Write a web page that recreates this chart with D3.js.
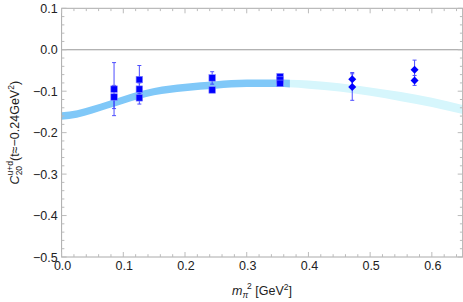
<!DOCTYPE html>
<html><head><meta charset="utf-8">
<script src="https://cdn.jsdelivr.net/npm/d3@7"></script>
<style>body{margin:0;background:#fff}svg{display:block}text{font-family:"Liberation Sans",Arial,sans-serif}</style>
</head><body>
<svg id="c" width="463" height="302"></svg>
<script>
// Data
const squareX   = [0.085, 0.085, 0.126, 0.126, 0.126, 0.244, 0.244, 0.354, 0.354, 0.354];
const squareY   = [-0.095, -0.114, -0.072, -0.095, -0.116, -0.068, -0.097, -0.065, -0.073, -0.081];
const squareErr = [0.064, 0.028, 0.034, 0.015, 0.015, 0.015, 0.004, 0.004, 0.004, 0.004];
const diamondX   = [0.471, 0.471, 0.572, 0.572];
const diamondY   = [-0.071, -0.090, -0.048, -0.074];
const diamondErr = [0.016, 0.032, 0.023, 0.012];
const bandX   = [0, 0.025, 0.05, 0.075, 0.1, 0.125, 0.15, 0.2, 0.25, 0.3, 0.35, 0.4, 0.45, 0.5, 0.55, 0.6, 0.65];
const bandMid = [-0.160, -0.155, -0.145, -0.133, -0.121, -0.110, -0.101, -0.091, -0.085, -0.081, -0.081, -0.084, -0.091, -0.101, -0.113, -0.127, -0.144];
const bandHalf = [0.009, 0.009, 0.009, 0.009, 0.009, 0.009, 0.009, 0.009, 0.009, 0.009, 0.009, 0.010, 0.010, 0.010, 0.011, 0.011, 0.011];
const bandSplit = 0.37;
const xTicks = [0, 0.1, 0.2, 0.3, 0.4, 0.5, 0.6];
const yTicks = [0.1, 0, -0.1, -0.2, -0.3, -0.4, -0.5];

const svg = d3.select("#c");
const L = 61.6, R = 462.7, T = 8.3, B = 257;
const x = d3.scaleLinear().domain([0, 0.65]).range([L, R]);
const y = d3.scaleLinear().domain([-0.5, 0.1]).range([B, T]);

// band
const band = bandX.map((v, i) => ({x: v, lo: bandMid[i] - bandHalf[i], hi: bandMid[i] + bandHalf[i]}));
const area = d3.area().x(d => x(d.x)).y0(d => y(d.lo)).y1(d => y(d.hi)).curve(d3.curveMonotoneX);
const clipL = svg.append("clipPath").attr("id", "cl").append("rect")
  .attr("x", L).attr("y", T).attr("width", x(bandSplit) - L).attr("height", B - T);
const clipR = svg.append("clipPath").attr("id", "cr").append("rect")
  .attr("x", x(bandSplit)).attr("y", T).attr("width", R - x(bandSplit)).attr("height", B - T);
svg.append("path").datum(band).attr("d", area).attr("fill", "#d6f6fc").attr("clip-path", "url(#cr)");
svg.append("path").datum(band).attr("d", area).attr("fill", "#80c8f8").attr("clip-path", "url(#cl)");

// zero line
svg.append("line").attr("x1", L).attr("x2", R).attr("y1", y(0)).attr("y2", y(0))
  .attr("stroke", "#999").attr("stroke-width", 1);

// frame
const frameColor = "#aaa";
svg.append("rect").attr("x", L).attr("y", T).attr("width", R - L).attr("height", B - T)
  .attr("fill", "none").attr("stroke", frameColor).attr("stroke-width", 1);

// minor & major ticks
const xMinor = d3.range(0, 0.6501, 0.02);
const yMinor = d3.range(-0.5, 0.1001, 0.02);
const g = svg.append("g").attr("stroke", "#bbb").attr("stroke-width", 1);
xMinor.forEach(v => {
  const major = Math.abs(v * 10 - Math.round(v * 10)) < 1e-6;
  const len = major ? 5 : 2.8;
  g.append("line").attr("x1", x(v)).attr("x2", x(v)).attr("y1", B).attr("y2", B - len);
  g.append("line").attr("x1", x(v)).attr("x2", x(v)).attr("y1", T).attr("y2", T + len);
});
yMinor.forEach(v => {
  const major = Math.abs(v * 10 - Math.round(v * 10)) < 1e-6;
  const len = major ? 5 : 2.8;
  g.append("line").attr("y1", y(v)).attr("y2", y(v)).attr("x1", L).attr("x2", L + len);
  g.append("line").attr("y1", y(v)).attr("y2", y(v)).attr("x1", R).attr("x2", R - len);
});

// tick labels
const fmt = v => (v < 0 ? "\u2212" : "") + Math.abs(v).toFixed(1);
svg.append("g").selectAll("text").data(xTicks).join("text")
  .attr("x", d => x(d) + 1).attr("y", B + 13).attr("text-anchor", "middle")
  .attr("font-size", 12.5).attr("fill", "#222").text(fmt);
svg.append("g").selectAll("text").data(yTicks).join("text")
  .attr("x", L - 4).attr("y", d => y(d) + 4.5).attr("text-anchor", "end")
  .attr("font-size", 12.5).attr("fill", "#222").text(fmt);

// error bars + markers
const ebColor = "#3030ff";
function errBars(xs, ys, es) {
  const eg = svg.append("g").attr("stroke", ebColor).attr("stroke-width", 1).attr("opacity", 0.85);
  xs.forEach((xv, i) => {
    const px = x(xv), y1 = y(ys[i] + es[i]), y2 = y(ys[i] - es[i]);
    eg.append("line").attr("x1", px).attr("x2", px).attr("y1", y1).attr("y2", y2);
    eg.append("line").attr("x1", px - 2).attr("x2", px + 2).attr("y1", y1).attr("y2", y1);
    eg.append("line").attr("x1", px - 2).attr("x2", px + 2).attr("y1", y2).attr("y2", y2);
  });
}
errBars(squareX, squareY, squareErr);
errBars(diamondX, diamondY, diamondErr);

const s = 6.5;
svg.append("g").selectAll("rect").data(squareX.map((v, i) => [v, squareY[i]])).join("rect")
  .attr("x", d => x(d[0]) - s / 2).attr("y", d => y(d[1]) - s / 2)
  .attr("width", s).attr("height", s).attr("fill", "#0000ff")
  .attr("stroke", "#8080ff").attr("stroke-width", 0.6);
const dsz = 4;
svg.append("g").selectAll("path").data(diamondX.map((v, i) => [v, diamondY[i]])).join("path")
  .attr("d", d => {
    const px = x(d[0]), py = y(d[1]);
    return `M${px},${py - dsz}L${px + dsz},${py}L${px},${py + dsz}L${px - dsz},${py}Z`;
  }).attr("fill", "#0000ff");

// axis titles
const xl = svg.append("text").attr("x", 262).attr("y", 295).attr("text-anchor", "middle")
  .attr("font-size", 12.5).attr("fill", "#222");
xl.append("tspan").attr("font-style", "italic").text("m");
xl.append("tspan").attr("font-size", 8.5).attr("dy", 3).attr("font-style", "italic").text("\u03C0");
xl.append("tspan").attr("font-size", 8.5).attr("dy", -9).attr("dx", -1).text("2");
xl.append("tspan").attr("dy", 6).text(" [GeV");
xl.append("tspan").attr("font-size", 8.5).attr("dy", -5).text("2");
xl.append("tspan").attr("dy", 5).text("]");

const yl = svg.append("text").attr("transform", `translate(19,${(T + B) / 2}) rotate(-90)`)
  .attr("text-anchor", "middle").attr("font-size", 12.5).attr("fill", "#222");
yl.append("tspan").attr("font-style", "italic").text("C");
yl.append("tspan").attr("font-size", 8.5).attr("dy", 3).text("20");
yl.append("tspan").attr("font-size", 8.5).attr("dy", -9).attr("dx", -9.5).text("u+d");
yl.append("tspan").attr("dy", 6).text("(t\u2248\u22120.24GeV");
yl.append("tspan").attr("font-size", 8.5).attr("dy", -5).text("2");
yl.append("tspan").attr("dy", 5).text(")");
</script>
</body></html>
